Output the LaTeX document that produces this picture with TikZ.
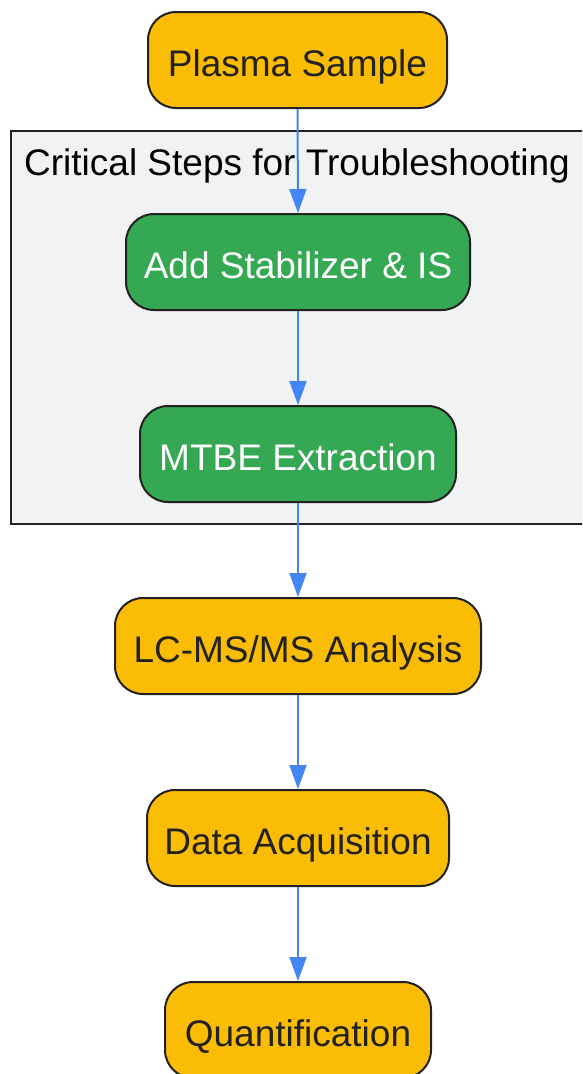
\documentclass[tikz,border=0pt]{standalone}
\usepackage{fontspec}
\setmainfont{Liberation Sans}
\usetikzlibrary{arrows.meta}
\definecolor{amber}{HTML}{FBBC05}
\definecolor{ggreen}{HTML}{34A853}
\definecolor{gblue}{HTML}{4285F4}
\definecolor{clusterfill}{HTML}{F1F2F4}
\definecolor{edgecol}{HTML}{222222}
\tikzset{
  base/.style={draw=edgecol, line width=2pt, rounded corners=28pt, inner sep=0pt,
    text height=32pt, text depth=0pt, font=\fontsize{37}{44}\selectfont,
    minimum height=96pt},
  amberbox/.style={base, fill=amber, text=edgecol},
  greenbox/.style={base, fill=ggreen, text=white},
  flow/.style={draw=gblue, line width=2pt, -{Triangle[length=24pt,width=17pt]}},
  clusterbox/.style={draw=edgecol, fill=clusterfill, line width=2pt, inner sep=0pt, anchor=north west},
  clusterlabel/.style={anchor=base west, inner sep=0pt, font=\fontsize{37}{44}\selectfont, text=black},
}
\begin{document}
\begin{tikzpicture}[x=1pt,y=-1pt]
\clip (0,0) rectangle (582,1074);
\fill[white] (0,0) rectangle (582,1074);
\node[clusterbox, minimum width=576pt, minimum height=393pt] (cl) at (10,130) {};
\node[clusterlabel] (cllabel) at (24,175) {Critical Steps for Troubleshooting};
\node[amberbox, minimum width=299pt] (plasma) at (297.5,60) {Plasma Sample};
\node[greenbox, minimum width=344pt] (stab) at (298,262) {Add Stabilizer \& IS};
\node[greenbox, minimum width=316pt] (mtbe) at (298,454) {MTBE Extraction};
\node[amberbox, minimum width=366pt] (lcms) at (298,646) {LC-MS/MS Analysis};
\node[amberbox, minimum width=302pt] (daq) at (298,838) {Data Acquisition};
\node[amberbox, minimum width=266pt] (quant) at (298,1030) {Quantification};
\draw[flow] (plasma.south) -- (stab.north);
\draw[flow] (stab.south) -- (mtbe.north);
\draw[flow] (mtbe.south) -- (lcms.north);
\draw[flow] (lcms.south) -- (daq.north);
\draw[flow] (daq.south) -- (quant.north);
\end{tikzpicture}
\end{document}
